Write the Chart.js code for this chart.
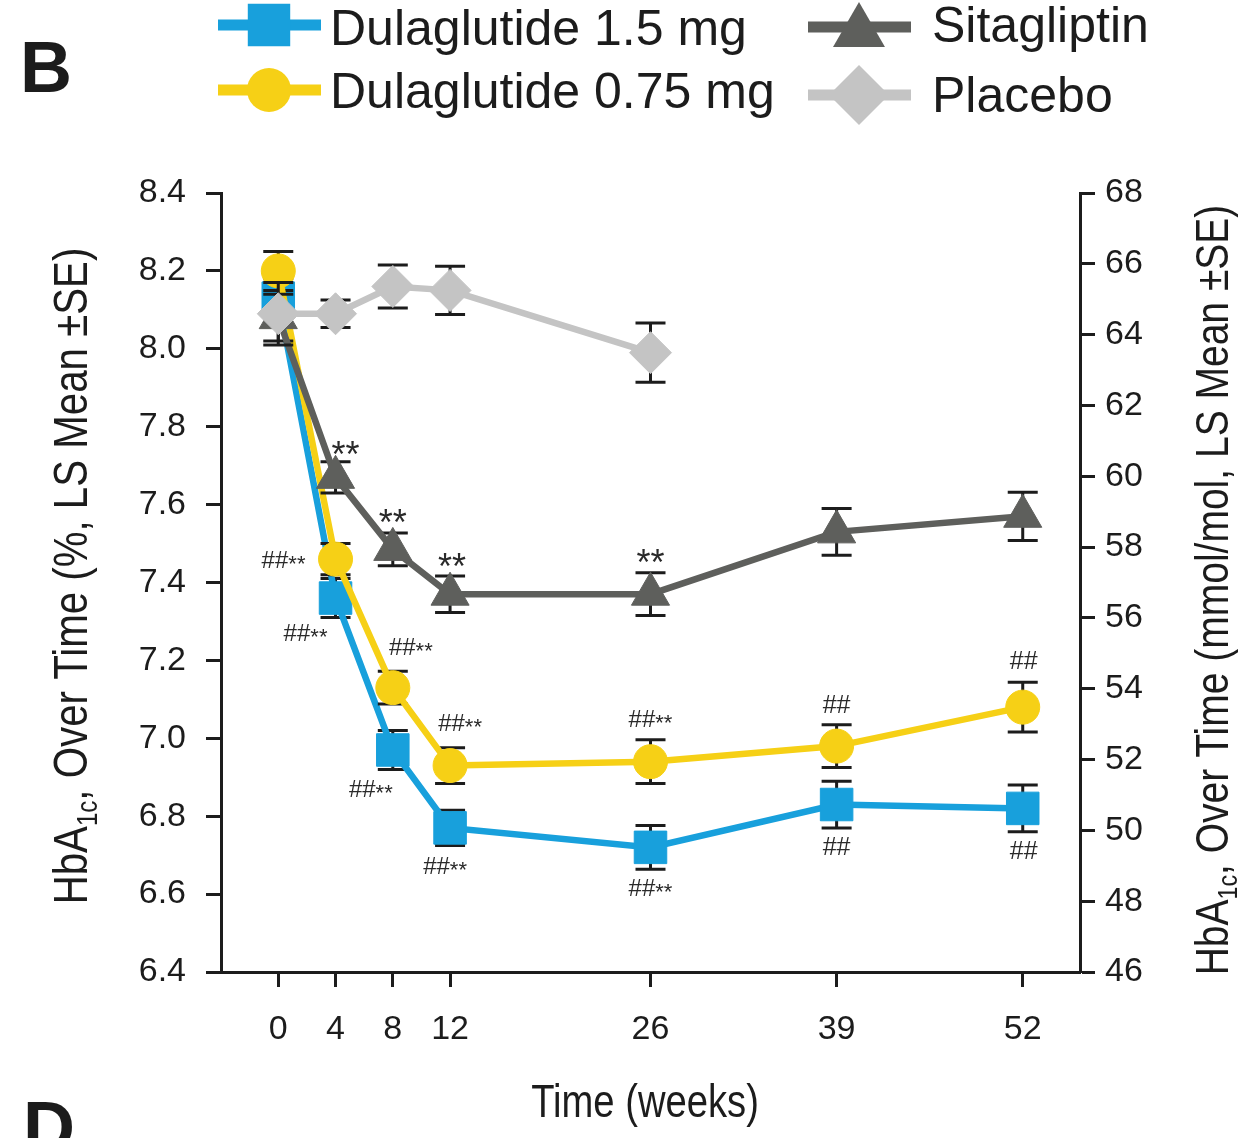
<!DOCTYPE html>
<html><head><meta charset="utf-8">
<script src="https://cdn.jsdelivr.net/npm/chart.js@4.4.1/dist/chart.umd.min.js"></script>
<style>html,body{margin:0;padding:0;background:#fff}canvas{display:block}</style>
</head><body>
<canvas id="c" width="1242" height="1138"></canvas>
<script>
// ---------- data ----------
const weeks = [0, 4, 8, 12, 26, 39, 52];
const placeboWeeks = [0, 4, 8, 12, 26];
const xTickValues = [0, 4, 8, 12, 26, 39, 52];

const dula15 = [8.13, 7.36, 6.97, 6.77, 6.72, 6.83, 6.82];
const dula15SE = [0.05, 0.05, 0.05, 0.045, 0.056, 0.06, 0.06];
const dula075 = [8.20, 7.46, 7.13, 6.93, 6.94, 6.98, 7.08];
const dula075SE = [0.05, 0.04, 0.042, 0.046, 0.056, 0.055, 0.064];
const sita = [8.08, 7.67, 7.485, 7.37, 7.37, 7.53, 7.57];
const sitaSE = [0.06, 0.04, 0.042, 0.047, 0.055, 0.06, 0.062];
const placebo = [8.09, 8.09, 8.16, 8.15, 7.99];
const placeboSE = [0.08, 0.035, 0.055, 0.062, 0.076];

const dula15Sig = ['', '##**', '##**', '##**', '##**', '##', '##'];
const dula075Sig = ['', '##**', '##**', '##**', '##**', '##', '##'];
const sitaSig = ['', '**', '**', '**', '**', '', ''];

const seriesNames = ['Dulaglutide 1.5 mg', 'Dulaglutide 0.75 mg', 'Sitagliptin', 'Placebo'];
const leftTitle = ['HbA', '1c', ', Over Time (%, LS Mean \u00B1SE)'];
const rightTitle = ['HbA', '1c', ', Over Time (mmol/mol, LS Mean \u00B1SE)'];
const xTitle = 'Time (weeks)';

// ---------- styles ----------
const COLORS = { blue: '#18A0DC', yellow: '#F6D016', dark: '#5E5F5C', light: '#C4C4C4' };
const INK = '#1c1c1c';
const FONT = '"Liberation Sans", Arial, sans-serif';
// label offsets (pixels) relative to the point they annotate
const dula15SigOff = [null, [-30, 35], [-22, 39], [-5, 38], [0, 41], [0, 41], [1, 42]];
const dula075SigOff = [null, [-52, 1], [18, -41], [10, -43], [0, -43], [0, -42], [1, -47]];
const sitaSigOff = [null, [10, -31], [0, -35], [2, -36], [0, -40], null, null];

function pts(xs, ys) { return xs.map((x, i) => ({ x: x, y: ys[i] })); }

const datasets = [
  { label: seriesNames[0], data: pts(weeks, dula15), errors: dula15SE, sig: dula15Sig, sigOff: dula15SigOff,
    borderColor: COLORS.blue, backgroundColor: COLORS.blue, pointStyle: 'rect', pointRadius: 23, order: 3 },
  { label: seriesNames[1], data: pts(weeks, dula075), errors: dula075SE, sig: dula075Sig, sigOff: dula075SigOff,
    borderColor: COLORS.yellow, backgroundColor: COLORS.yellow, pointStyle: 'circle', pointRadius: 17, order: 2 },
  { label: seriesNames[2], data: pts(weeks, sita), errors: sitaSE, sig: sitaSig, sigOff: sitaSigOff,
    borderColor: COLORS.dark, backgroundColor: COLORS.dark, pointStyle: 'triangle', pointRadius: 22, order: 1 },
  { label: seriesNames[3], data: pts(placeboWeeks, placebo), errors: placeboSE,
    borderColor: COLORS.light, backgroundColor: COLORS.light, pointStyle: 'rectRot', pointRadius: 21, order: 0 }
];
datasets.forEach(d => {
  d.borderWidth = 6.5; d.tension = 0; d.pointBorderWidth = 1;
  d.pointBorderColor = d.borderColor; d.pointBackgroundColor = d.backgroundColor;
  d.pointHoverRadius = d.pointRadius; d.clip = false;
});

const errorBars = {
  id: 'errorBars',
  beforeDatasetDraw(chart, args) {
    const ds = chart.data.datasets[args.index];
    if (!ds.errors) return;
    const ctx = chart.ctx, xs = chart.scales.x, ys = chart.scales.y;
    ctx.save();
    ctx.strokeStyle = INK; ctx.lineWidth = 3;
    ds.data.forEach((p, i) => {
      const se = ds.errors[i];
      const px = xs.getPixelForValue(p.x);
      const t = ys.getPixelForValue(p.y + se), b = ys.getPixelForValue(p.y - se);
      ctx.beginPath();
      ctx.moveTo(px, t); ctx.lineTo(px, b);
      ctx.moveTo(px - 15, t); ctx.lineTo(px + 15, t);
      ctx.moveTo(px - 15, b); ctx.lineTo(px + 15, b);
      ctx.stroke();
    });
    ctx.restore();
  }
};

function drawSig(ctx, text, cx, cy) {
  const hashes = (text.match(/#+/) || [''])[0];
  const stars = (text.match(/\*+/) || [''])[0];
  ctx.save();
  ctx.fillStyle = '#2a2a2a';
  ctx.textBaseline = 'alphabetic'; ctx.textAlign = 'left';
  if (hashes && stars) {
    ctx.font = '24px ' + FONT; const w1 = ctx.measureText(hashes).width;
    ctx.font = '22px ' + FONT; const w2 = ctx.measureText(stars).width;
    let x = cx - (w1 + w2) / 2; const base = cy + 8;
    ctx.font = '24px ' + FONT; ctx.fillText(hashes, x, base);
    ctx.font = '22px ' + FONT; ctx.fillText(stars, x + w1, base + 3);
  } else if (hashes) {
    ctx.font = '25px ' + FONT; ctx.textAlign = 'center';
    ctx.fillText(hashes, cx, cy + 9);
  } else if (stars) {
    ctx.font = '36px ' + FONT; ctx.textAlign = 'center';
    ctx.fillText(stars, cx, cy + 21);
  }
  ctx.restore();
}

const sigLabels = {
  id: 'sigLabels',
  afterDatasetsDraw(chart) {
    const ctx = chart.ctx, xs = chart.scales.x, ys = chart.scales.y;
    chart.data.datasets.forEach(ds => {
      if (!ds.sig) return;
      ds.data.forEach((p, i) => {
        if (!ds.sig[i] || !ds.sigOff[i]) return;
        drawSig(ctx, ds.sig[i], xs.getPixelForValue(p.x) + ds.sigOff[i][0], ys.getPixelForValue(p.y) + ds.sigOff[i][1]);
      });
    });
  }
};

function richWidth(ctx, parts, size) {
  ctx.font = size + 'px ' + FONT; let w = ctx.measureText(parts[0]).width + ctx.measureText(parts[2]).width;
  ctx.font = Math.round(size * 0.6) + 'px ' + FONT; w += ctx.measureText(parts[1]).width;
  return w;
}
function drawRich(ctx, parts, size) {
  const w = richWidth(ctx, parts, size);
  let x = -w / 2; const base = size * 0.36;
  ctx.textAlign = 'left'; ctx.textBaseline = 'alphabetic';
  ctx.font = size + 'px ' + FONT; ctx.fillText(parts[0], x, base); x += ctx.measureText(parts[0]).width;
  ctx.font = Math.round(size * 0.6) + 'px ' + FONT; ctx.fillText(parts[1], x, base + size * 0.2); x += ctx.measureText(parts[1]).width;
  ctx.font = size + 'px ' + FONT; ctx.fillText(parts[2], x, base);
}

function drawMarker(ctx, style, x, y, r) {
  ctx.beginPath();
  if (style === 'rect') { const s = r * Math.SQRT1_2; ctx.rect(x - s, y - s, 2 * s, 2 * s); }
  else if (style === 'circle') { ctx.arc(x, y, r, 0, Math.PI * 2); }
  else if (style === 'triangle') {
    for (let k = 0; k < 3; k++) { const a = k * 2 * Math.PI / 3; const px = x + Math.sin(a) * r, py = y - Math.cos(a) * r; k ? ctx.lineTo(px, py) : ctx.moveTo(px, py); }
    ctx.closePath();
  } else if (style === 'rectRot') { ctx.moveTo(x - r, y); ctx.lineTo(x, y - r); ctx.lineTo(x + r, y); ctx.lineTo(x, y + r); ctx.closePath(); }
  ctx.fill();
}

const decorations = {
  id: 'decorations',
  afterDraw(chart) {
    const ctx = chart.ctx;
    ctx.save();
    ctx.fillStyle = INK;
    ctx.font = 'bold 72px ' + FONT; ctx.textAlign = 'left'; ctx.textBaseline = 'alphabetic';
    ctx.fillText('B', 20, 92);
    ctx.fillText('D', 23, 1152);
    const legendPos = [[218, 25, 330, 45], [218, 90, 330, 108], [808, 27, 932, 42], [808, 95, 932, 112]];
    const legR = [30, 22, 30, 30];
    chart.data.datasets.forEach((ds, i) => {
      const [lx, ly, tx, ty] = legendPos[i];
      ctx.strokeStyle = ds.borderColor; ctx.lineWidth = 11;
      ctx.beginPath(); ctx.moveTo(lx, ly); ctx.lineTo(lx + 103, ly); ctx.stroke();
      ctx.fillStyle = ds.backgroundColor;
      drawMarker(ctx, ds.pointStyle, lx + 51, ly + (ds.pointStyle === 'triangle' ? 5 : 0), legR[i]);
      ctx.fillStyle = INK; ctx.font = '50px ' + FONT; ctx.textAlign = 'left';
      ctx.fillText(ds.label, tx, ty);
    });
    ctx.fillStyle = INK;
    ctx.save(); ctx.translate(70, 576); ctx.rotate(-Math.PI / 2); ctx.scale(0.83, 1);
    drawRich(ctx, leftTitle, 48.5); ctx.restore();
    ctx.save(); ctx.translate(1211, 590); ctx.rotate(-Math.PI / 2); ctx.scale(0.83, 1);
    drawRich(ctx, rightTitle, 47); ctx.restore();
    ctx.save(); ctx.translate(645, 1101); ctx.scale(0.83, 1);
    ctx.font = '46px ' + FONT; ctx.textAlign = 'center'; ctx.textBaseline = 'alphabetic';
    ctx.fillText(xTitle, 0, 16); ctx.restore();
    ctx.restore();
  }
};

const tickFont = { family: FONT, size: 34 };
const axisCommon = {
  grid: { display: true, drawOnChartArea: false, drawTicks: true, tickLength: 15, tickWidth: 3, tickColor: INK },
  border: { display: true, color: INK, width: 3 },
};

new Chart(document.getElementById('c'), {
  type: 'line',
  data: { datasets: datasets },
  options: {
    responsive: false, animation: false, devicePixelRatio: 1,
    layout: { padding: { top: 193, left: 0, right: 0, bottom: 0 } },
    plugins: { legend: { display: false }, tooltip: { enabled: false } },
    scales: {
      x: Object.assign({}, axisCommon, {
        type: 'linear', position: 'bottom', min: -4, max: 56,
        afterBuildTicks: s => { s.ticks = xTickValues.map(v => ({ value: v })); },
        afterFit: s => { s.height = 166; },
        ticks: { font: tickFont, color: INK, padding: 22, autoSkip: false, maxRotation: 0 }
      }),
      y: Object.assign({}, axisCommon, {
        type: 'linear', position: 'left', min: 6.4, max: 8.4,
        afterFit: s => { s.width = 221; },
        ticks: { font: tickFont, color: INK, padding: 20, stepSize: 0.2, callback: v => v.toFixed(1) }
      }),
      y2: Object.assign({}, axisCommon, {
        type: 'linear', position: 'right', min: 46, max: 68,
        afterFit: s => { s.width = 162; },
        ticks: { font: tickFont, color: INK, padding: 10, stepSize: 2 }
      })
    }
  },
  plugins: [errorBars, sigLabels, decorations]
});
</script>
</body></html>
